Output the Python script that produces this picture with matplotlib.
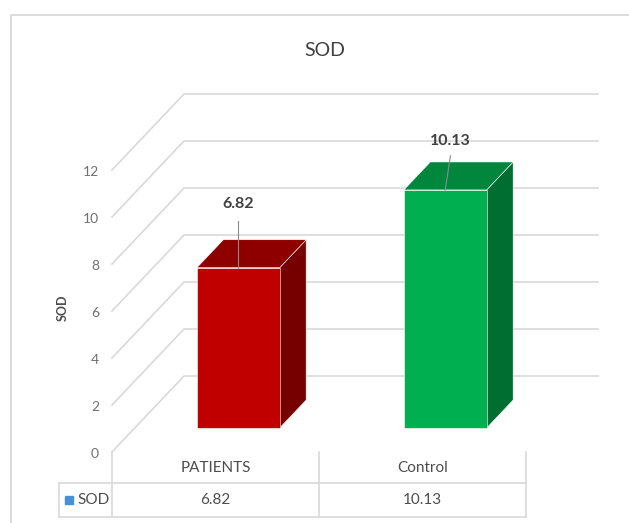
import matplotlib
matplotlib.use("Agg")
import matplotlib.pyplot as plt
from matplotlib.patches import Polygon

# data
categories = ["PATIENTS", "Control"]
sod_values = [6.82, 10.13]
series_name = "SOD"
y_ticks = [0, 2, 4, 6, 8, 10, 12]

# colours: front, top, side
face_colors = [("#C00000", "#8E0000", "#760000"),
               ("#00B050", "#00873D", "#006E31")]
grid_color = "#D9D9D9"
text_color = "#4d4d4d"

plt.rcParams["font.family"] = ["Lato", "DejaVu Sans"]

W, H = 629, 523
fig = plt.figure(figsize=(W / 100, H / 100), dpi=100)
ax = fig.add_axes([0, 0, 1, 1])
ax.axis("off")

# plot frame: one category slot is SLOT px wide, one value unit is UNIT px tall
X0, Y0 = 112, 452          # front-left corner of the floor, in pixels
SLOT, UNIT = 207, 23.5
ax.set_xlim(-X0 / SLOT, (W - X0) / SLOT)
ax.set_ylim((Y0 - H) / UNIT, Y0 / UNIT)

# oblique depth direction (full depth of the plot box)
DX, DY = 72 / SLOT, 76 / UNIT


def px(x, y):
    """pixel position -> data coordinates (for frame/table layout)"""
    return (x - X0) / SLOT, (Y0 - y) / UNIT


def proj(x, v, d):
    return x + d * DX, v + d * DY


n = len(categories)

# outer chart border
bx, by = px(11, 15)
ax.plot([bx, bx, ax.get_xlim()[1]], [ax.get_ylim()[0], by, by], color="#D9D9D9", lw=1.3)

# side wall diagonals and back wall gridlines
for v in y_ticks:
    xa, ya = proj(0, v, 0)
    xb, yb = proj(0, v, 1)
    xc, yc = proj(n, v, 1)
    ax.plot([xa, xb, xc], [ya, yb, yc], color=grid_color, lw=1.2, zorder=1)
    ax.text(xa - 13 / SLOT, v - 0.1, str(v), ha="right", va="center",
            fontsize=10, color="#707070")

# 3d columns
half_w = 0.2
d0, d1 = 0.316, 0.684
label_offsets = [(0.0, 2.0, 0.7), (0.025, 1.45, 0.65)]
for i, (val, cols) in enumerate(zip(sod_values, face_colors)):
    c = i + 0.5
    l, r = c - half_w, c + half_w
    front = [proj(l, 0, d0), proj(r, 0, d0), proj(r, val, d0), proj(l, val, d0)]
    top = [proj(l, val, d0), proj(r, val, d0), proj(r, val, d1), proj(l, val, d1)]
    side = [proj(r, 0, d0), proj(r, 0, d1), proj(r, val, d1), proj(r, val, d0)]
    for poly, col in [(side, cols[2]), (top, cols[1]), (front, cols[0])]:
        ax.add_patch(Polygon(poly, closed=True, facecolor=col,
                             edgecolor="#ffffff", lw=0.4, alpha=1, zorder=3))
    # data label with leader line
    dx, gap, txt_gap = label_offsets[i]
    tx, ty = proj(c, val, d0)
    ax.plot([tx, tx + dx], [ty, ty + gap], color="#8c8c8c", lw=0.8, zorder=4)
    ax.text(tx + dx, ty + gap + txt_gap, f"{val:.2f}", ha="center", va="center",
            fontsize=11.5, color="#404040", fontweight="bold", zorder=5)

# titles
tx, ty = px(325, 50)
ax.text(tx, ty, "SOD", ha="center", va="center", fontsize=14, color="#404040")
tx, ty = px(63, 308)
ax.text(tx, ty, series_name, ha="center", va="center", rotation=90,
        fontsize=9, fontweight="bold", color=text_color)

# data table
_, y_mid = px(0, 483)
_, y_bot = px(0, 517)
x_key, _ = px(59, 0)
tbl = dict(color=grid_color, lw=1.2, zorder=1)
for k in range(n + 1):
    ax.plot([k, k], [0, y_bot], **tbl)
ax.plot([x_key, n], [y_mid, y_mid], **tbl)
ax.plot([x_key, n], [y_bot, y_bot], **tbl)
ax.plot([x_key, x_key], [y_mid, y_bot], **tbl)
for i, (cat, val) in enumerate(zip(categories, sod_values)):
    ax.text(i + 0.5, y_mid / 2, cat, ha="center", va="center",
            fontsize=11, color=text_color)
    ax.text(i + 0.5, (y_mid + y_bot) / 2, f"{val:.2f}", ha="center",
            va="center", fontsize=11, color=text_color)
kx, ky = px(69, 500)
ax.plot([kx], [ky], marker="s", ms=5.5, color="#4A90D9", lw=0)
kx, ky = px(77, 500)
ax.text(kx, ky, series_name, ha="left", va="center", fontsize=11, color=text_color)

fig.savefig("out.png", dpi=100)
